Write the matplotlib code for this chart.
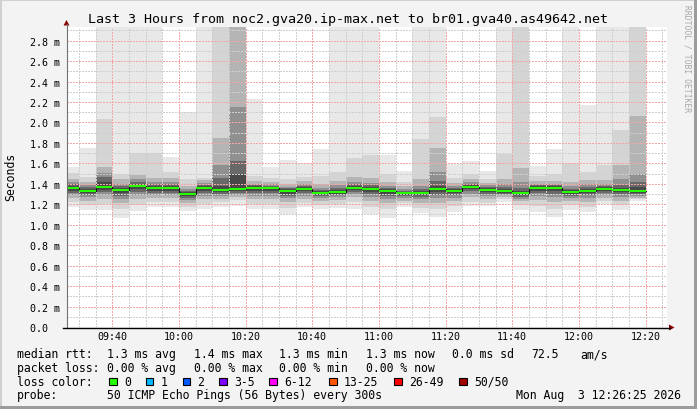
import numpy as np
import matplotlib
matplotlib.use("Agg")
import matplotlib.pyplot as plt
from matplotlib.patches import Rectangle, Polygon
from matplotlib.lines import Line2D

# end time of every 5 minute step
times = ["09:30", "09:35", "09:40", "09:45", "09:50", "09:55", "10:00",
         "10:05", "10:10", "10:15", "10:20", "10:25", "10:30", "10:35",
         "10:40", "10:45", "10:50", "10:55", "11:00", "11:05", "11:10",
         "11:15", "11:20", "11:25", "11:30", "11:35", "11:40", "11:45",
         "11:50", "11:55", "12:00", "12:05", "12:10", "12:15", "12:20"]

# median rtt per step (ms)
median = [1.36, 1.33, 1.37, 1.34, 1.38, 1.36, 1.36, 1.30, 1.36, 1.34, 1.35, 1.36,
          1.36, 1.33, 1.35, 1.31, 1.32, 1.36, 1.35, 1.33, 1.31, 1.31, 1.35, 1.33,
          1.37, 1.34, 1.33, 1.31, 1.36, 1.36, 1.32, 1.33, 1.35, 1.34, 1.33]

# smoke: spread of the sorted pings, outermost pair first (ms)
smoke1_hi = [1.56, 1.75, 2.95, 2.95, 2.95, 2.95, 1.66, 2.10, 2.95, 2.95, 2.95, 2.23,
             1.56, 1.63, 1.60, 1.74, 2.95, 2.95, 2.95, 1.68, 1.53, 2.95, 2.95, 1.59,
             1.62, 1.53, 2.95, 2.95, 1.57, 1.74, 2.95, 2.17, 2.95, 2.95, 2.95]
smoke1_lo = [1.17, 1.14, 1.14, 1.07, 1.13, 1.17, 1.17, 1.13, 1.15, 1.17, 1.18, 1.15,
             1.15, 1.10, 1.17, 1.15, 1.16, 1.15, 1.10, 1.07, 1.17, 1.11, 1.08, 1.12,
             1.18, 1.18, 1.22, 1.14, 1.12, 1.08, 1.14, 1.12, 1.20, 1.14, 1.23]
smoke2_hi = [1.51, 1.47, 2.03, 1.50, 1.70, 1.70, 1.52, 1.45, 1.46, 2.95, 2.95, 1.48,
             1.46, 1.45, 1.47, 1.48, 1.52, 1.65, 1.68, 1.50, 1.42, 1.84, 2.05, 1.46,
             1.50, 1.45, 1.69, 2.95, 1.48, 1.50, 1.60, 1.52, 1.58, 1.93, 2.95]
smoke2_lo = [1.22, 1.19, 1.20, 1.15, 1.19, 1.22, 1.22, 1.17, 1.20, 1.22, 1.24, 1.20,
             1.20, 1.16, 1.21, 1.19, 1.20, 1.22, 1.17, 1.15, 1.21, 1.16, 1.15, 1.18,
             1.22, 1.21, 1.25, 1.19, 1.18, 1.15, 1.19, 1.17, 1.23, 1.19, 1.25]
smoke3_hi = [1.45, 1.42, 1.56, 1.45, 1.49, 1.46, 1.46, 1.38, 1.44, 1.85, 2.95, 1.43,
             1.42, 1.40, 1.43, 1.40, 1.43, 1.47, 1.46, 1.42, 1.38, 1.45, 1.75, 1.41,
             1.45, 1.41, 1.45, 1.55, 1.43, 1.43, 1.42, 1.44, 1.44, 1.58, 2.06]
smoke3_lo = [1.26, 1.23, 1.25, 1.21, 1.25, 1.26, 1.26, 1.21, 1.25, 1.25, 1.27, 1.25,
             1.25, 1.22, 1.25, 1.23, 1.24, 1.27, 1.23, 1.21, 1.23, 1.21, 1.21, 1.23,
             1.27, 1.25, 1.27, 1.23, 1.24, 1.22, 1.23, 1.22, 1.26, 1.23, 1.26]
smoke4_hi = [1.42, 1.39, 1.51, 1.40, 1.45, 1.42, 1.42, 1.35, 1.41, 1.58, 2.15, 1.40,
             1.40, 1.37, 1.40, 1.36, 1.39, 1.42, 1.41, 1.38, 1.35, 1.38, 1.52, 1.38,
             1.42, 1.39, 1.40, 1.42, 1.40, 1.40, 1.38, 1.40, 1.40, 1.45, 1.50]
smoke4_lo = [1.29, 1.27, 1.29, 1.25, 1.29, 1.29, 1.29, 1.24, 1.28, 1.28, 1.29, 1.28,
             1.28, 1.26, 1.28, 1.26, 1.27, 1.30, 1.27, 1.25, 1.26, 1.25, 1.26, 1.26,
             1.30, 1.28, 1.29, 1.25, 1.28, 1.27, 1.26, 1.26, 1.29, 1.27, 1.28]
smoke5_hi = [1.40, 1.37, 1.47, 1.38, 1.42, 1.40, 1.40, 1.33, 1.39, 1.46, 1.62, 1.39,
             1.38, 1.36, 1.38, 1.34, 1.36, 1.40, 1.39, 1.36, 1.33, 1.35, 1.43, 1.36,
             1.40, 1.37, 1.37, 1.36, 1.39, 1.39, 1.35, 1.37, 1.38, 1.39, 1.42]
smoke5_lo = [1.31, 1.29, 1.32, 1.28, 1.32, 1.31, 1.31, 1.26, 1.31, 1.30, 1.31, 1.31,
             1.31, 1.28, 1.31, 1.28, 1.29, 1.32, 1.30, 1.28, 1.28, 1.27, 1.29, 1.29,
             1.33, 1.30, 1.30, 1.27, 1.31, 1.30, 1.28, 1.29, 1.31, 1.30, 1.30]
smoke6_hi = [1.38, 1.35, 1.42, 1.36, 1.40, 1.38, 1.38, 1.32, 1.38, 1.38, 1.50, 1.38,
             1.37, 1.35, 1.37, 1.33, 1.34, 1.38, 1.37, 1.35, 1.32, 1.33, 1.38, 1.35,
             1.39, 1.36, 1.35, 1.33, 1.38, 1.38, 1.34, 1.35, 1.37, 1.36, 1.37]
smoke6_lo = [1.33, 1.31, 1.34, 1.31, 1.35, 1.33, 1.33, 1.28, 1.33, 1.32, 1.33, 1.33,
             1.33, 1.30, 1.33, 1.29, 1.30, 1.34, 1.32, 1.30, 1.29, 1.29, 1.32, 1.31,
             1.35, 1.32, 1.31, 1.29, 1.33, 1.33, 1.30, 1.31, 1.33, 1.32, 1.31]

x_labels = ["09:40", "10:00", "10:20", "10:40", "11:00", "11:20", "11:40", "12:00", "12:20"]
y_values = [0.0, 0.2, 0.4, 0.6, 0.8, 1.0, 1.2, 1.4, 1.6, 1.8, 2.0, 2.2, 2.4, 2.6, 2.8]

loss_labels = ["0", "1", "2", "3-5", "6-12", "13-25", "26-49", "50/50"]
loss_colors = ["#26ff00", "#00b8ff", "#0059ff", "#7e00ff", "#ff00ff", "#ff5500", "#ff0000", "#a10000"]

title = "Last 3 Hours from noc2.gva20.ip-max.net to br01.gva40.as49642.net"
start_time, end_time = "09:26:25", "12:26:25"


def minutes(s):
    parts = [int(p) for p in s.split(":")]
    return parts[0] * 60 + parts[1] + (parts[2] / 60 if len(parts) > 2 else 0)


W, H = 697, 410
MONO = "DejaVu Sans Mono"
plt.rcParams["font.family"] = MONO

fig = plt.figure(figsize=(W / 100, H / 100), dpi=100, facecolor="#f3f3f3")
ax = fig.add_axes([67 / W, 1 - 328 / H, 600 / W, 300 / H])
ax.set_facecolor("white")

ends = np.array([minutes(t) for t in times])
edges = np.append(ends[0] - 5, ends)

# smoke, outer (light) to inner (dark)
smoke = [(smoke1_lo, smoke1_hi), (smoke2_lo, smoke2_hi), (smoke3_lo, smoke3_hi),
         (smoke4_lo, smoke4_hi), (smoke5_lo, smoke5_hi), (smoke6_lo, smoke6_hi)]
grays = ["#e8e8e8", "#d4d4d4", "#b4b4b4", "#909090", "#686868", "#484848"]
for (lo, hi), col in zip(smoke, grays):
    ax.fill_between(edges, np.append(lo, lo[-1]), np.append(hi, hi[-1]), step="post",
                    color=col, linewidth=0, zorder=1)

# median line
med = np.array(median)
ax.step(edges, np.append(med, med[-1]), where="post", color="#101010", lw=0.8, zorder=3)
ax.hlines(med, edges[:-1], edges[1:], color=loss_colors[0], lw=1.5, zorder=4)

# axes, grid
ax.set_xlim(minutes(start_time), minutes(end_time))
ax.set_ylim(0, 2.933)
ax.set_xticks([minutes(t) for t in x_labels])
ax.set_xticklabels(x_labels, fontsize=7.2)
ax.set_xticks(np.arange(minutes("09:30"), minutes("12:26"), 5), minor=True)
ax.set_yticks(y_values)
ax.set_yticklabels(["%.1f m" % v if v > 0 else "0.0\u00a0\u00a0" for v in y_values], fontsize=7.2)
ax.set_yticks(np.arange(0.1, 2.93, 0.2), minor=True)
ax.set_axisbelow(False)
ax.grid(which="minor", color="#cfcfcf", linestyle=(0, (1.4, 1.4)), linewidth=0.72, antialiased=False)
ax.grid(which="major", color="#f4a6a6", linestyle=(0, (1.4, 1.4)), linewidth=0.72, antialiased=False)
ax.tick_params(which="both", length=0)
ax.tick_params(axis="x", pad=3.2)
ax.tick_params(axis="y", pad=5)
for s in ax.spines.values():
    s.set_visible(False)


def fx(x):
    return x / W


def fy(y):
    return 1 - y / H


# axis lines and arrows
fig.add_artist(Line2D([fx(66.5), fx(66.5)], [fy(328), fy(25)], color="#707070", lw=0.8))
fig.add_artist(Line2D([fx(63), fx(670)], [fy(328.5), fy(328.5)], color="black", lw=1.0))
fig.add_artist(Polygon([[fx(63.5), fy(26.5)], [fx(69.5), fy(26.5)], [fx(66.5), fy(21)]],
                       closed=True, color="#8b0000", lw=0))
fig.add_artist(Polygon([[fx(669), fy(325.5)], [fx(669), fy(331.5)], [fx(674.5), fy(328.5)]],
                       closed=True, color="#8b0000", lw=0))

# texts
fig.text(fx(348), fy(19), title, ha="center", va="center", fontsize=9.6)
fig.text(fx(11), fy(177), "Seconds", rotation=90, ha="center", va="center", fontsize=8.3)
fig.text(fx(687), fy(59), "RRDTOOL / TOBI OETIKER", rotation=-90, ha="center", va="center",
         fontsize=5.8, color="#a8a8a8")

legend_rows = [
    (354.7, [("median rtt:", 16.7), ("1.3 ms avg", 107.3), ("1.4 ms max", 194.0),
             ("1.3 ms min", 279.3), ("1.3 ms now", 365.7), ("0.0 ms sd", 451.7),
             ("72.5", 531.0), ("am/s", 580.0)]),
    (368.3, [("packet loss:", 16.7), ("0.00 % avg", 107.3), ("0.00 % max", 194.0),
             ("0.00 % min", 279.3), ("0.00 % now", 365.7)]),
    (382.3, [("loss color:", 16.7)]),
    (396.0, [("probe:", 16.7), ("50 ICMP Echo Pings (56 Bytes) every 300s", 107.3)]),
]
for y, items in legend_rows:
    for txt, x in items:
        fig.text(fx(x), fy(y), txt, ha="left", va="center", fontsize=8.3)
fig.text(fx(681), fy(396), "Mon Aug  3 12:26:25 2026", ha="right", va="center", fontsize=8.3)

box_x = [109, 145.7, 182.7, 219.3, 269.3, 329.3, 394, 459]
for x, lab, col in zip(box_x, loss_labels, loss_colors):
    fig.add_artist(Rectangle((fx(x), fy(386.2)), 7.7 / W, 7.7 / H, facecolor=col,
                             edgecolor="black", lw=0.8))
    fig.text(fx(x + 14.8), fy(382.3), lab, ha="left", va="center", fontsize=8.3)

# bevelled frame
fig.add_artist(Rectangle((0, fy(2)), 1, 2 / H, color="#d0d0d0", lw=0))
fig.add_artist(Rectangle((0, 0), 2 / W, 1, color="#d0d0d0", lw=0))
fig.add_artist(Rectangle((0, 0), 1, 3 / H, color="#9c9c9c", lw=0))
fig.add_artist(Rectangle((fx(694), 0), 3 / W, 1, color="#9c9c9c", lw=0))

fig.savefig("out.png", dpi=100, facecolor=fig.get_facecolor())
